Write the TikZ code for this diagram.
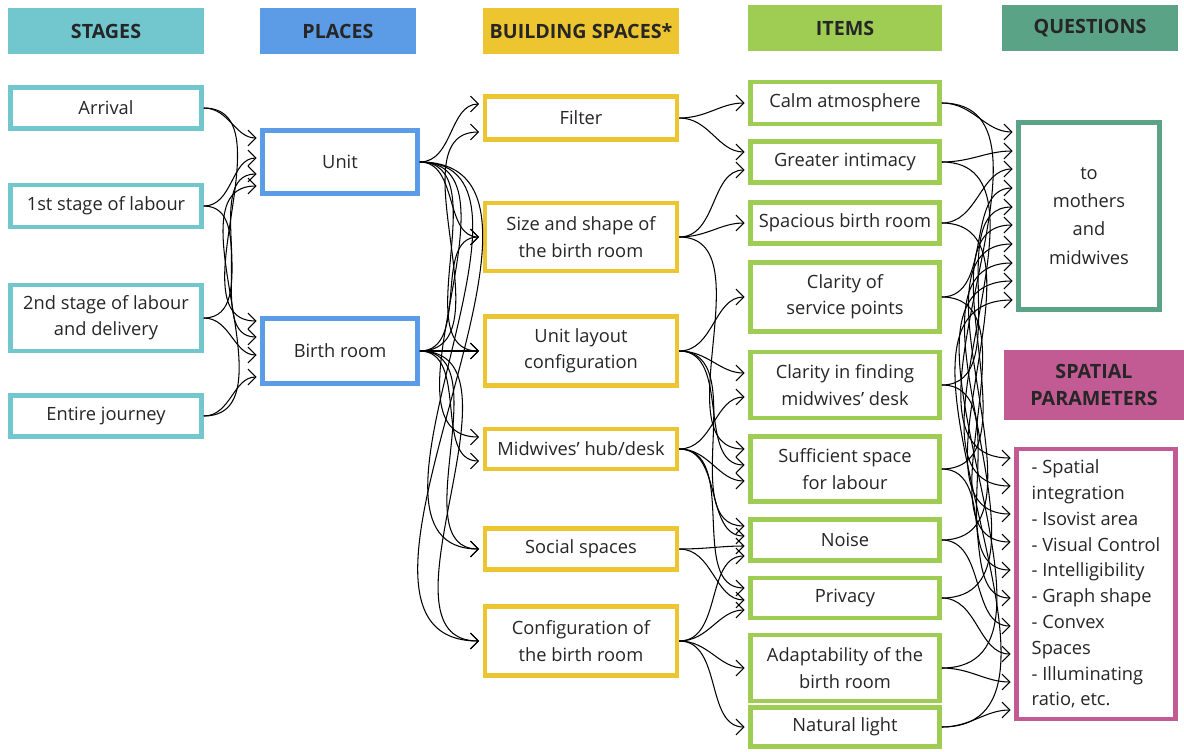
\documentclass[tikz,border=0pt]{standalone}
\usepackage{fontspec}
\setmainfont{Open Sans}
\usetikzlibrary{arrows.meta,calc}

\definecolor{stagecol}{HTML}{72C7CE}
\definecolor{placecol}{HTML}{5C9CE6}
\definecolor{spacecol}{HTML}{EDC531}
\definecolor{itemcol}{HTML}{9FCC52}
\definecolor{questcol}{HTML}{5AA386}
\definecolor{paramcol}{HTML}{C25B93}
\definecolor{inkcol}{HTML}{262626}

\begin{document}
\begin{tikzpicture}[x=0.02cm, y=-0.02cm,
  every node/.style={font=\fontsize{10.4}{15}\selectfont, text=inkcol, align=center, inner sep=1pt},
  head/.style={fill=#1, minimum height=0.92cm, font=\fontsize{11.2}{15}\selectfont\bfseries},
  box/.style={draw=#1, line width=2.6pt, fill=white},
  link/.style={->, >={Straight Barb[length=4.5pt,width=9pt]}, line width=0.6pt, shorten >=2pt}]
\useasboundingbox (0,0) rectangle (1184,751);

% headers
\node[head=stagecol, minimum width=3.92cm] (hStages) at (106,31) {STAGES};
\node[head=placecol, minimum width=3.12cm] (hPlaces) at (338,31) {PLACES};
\node[head=spacecol, minimum width=3.94cm] (hSpaces) at (581,31) {BUILDING SPACES*};
\node[head=itemcol, minimum width=3.88cm] (hItems) at (845,28) {ITEMS};
\node[head=questcol, minimum width=3.52cm] (hQuest) at (1090,28) {QUESTIONS};
\node[head=paramcol, minimum width=3.6cm, minimum height=1.4cm] (hParam) at (1094,385) {SPATIAL\\PARAMETERS};

% stages
\node[box=stagecol, minimum width=3.82cm, minimum height=0.82cm] (arr) at (106,108) {Arrival};
\node[box=stagecol, minimum width=3.82cm, minimum height=0.84cm] (first) at (106,206) {1st stage of labour};
\node[box=stagecol, minimum width=3.82cm, minimum height=1.32cm] (second) at (106,318) {2nd stage of labour\\and delivery};
\node[box=stagecol, minimum width=3.82cm, minimum height=0.82cm] (entire) at (106,416) {Entire journey};

% places
\node[box=placecol, minimum width=3.1cm, minimum height=1.26cm] (unit) at (340,162) {Unit};
\node[box=placecol, minimum width=3.1cm, minimum height=1.3cm] (birth) at (340,351) {Birth room};

% building spaces
\node[box=spacecol, minimum width=3.84cm, minimum height=0.86cm] (filter) at (581,118) {Filter};
\node[box=spacecol, minimum width=3.84cm, minimum height=1.36cm] (size) at (581,237) {Size and shape of\\the birth room};
\node[box=spacecol, minimum width=3.84cm, minimum height=1.38cm] (layout) at (581,351) {Unit layout\\configuration};
\node[box=spacecol, minimum width=3.84cm, minimum height=0.8cm] (hub) at (581,449) {Midwives' hub/desk};
\node[box=spacecol, minimum width=3.84cm, minimum height=0.82cm] (social) at (581,549) {Social spaces};
\node[box=spacecol, minimum width=3.84cm, minimum height=1.38cm] (config) at (581,641) {Configuration of\\the birth room};

% items
\node[box=itemcol, minimum width=3.78cm, minimum height=0.84cm] (calm) at (845,103) {Calm atmosphere};
\node[box=itemcol, minimum width=3.78cm, minimum height=0.82cm] (intimacy) at (845,162) {Greater intimacy};
\node[box=itemcol, minimum width=3.78cm, minimum height=0.82cm] (spacious) at (845,223) {Spacious birth room};
\node[box=itemcol, minimum width=3.78cm, minimum height=1.38cm] (service) at (845,297) {Clarity of\\service points};
\node[box=itemcol, minimum width=3.78cm, minimum height=1.32cm] (desk) at (845,385) {Clarity in finding\\midwives’ desk};
\node[box=itemcol, minimum width=3.78cm, minimum height=1.3cm] (sufficient) at (845,469) {Sufficient space\\for labour};
\node[box=itemcol, minimum width=3.78cm, minimum height=0.82cm] (noise) at (845,540) {Noise};
\node[box=itemcol, minimum width=3.78cm, minimum height=0.8cm] (privacy) at (845,598) {Privacy};
\node[box=itemcol, minimum width=3.78cm, minimum height=1.32cm] (adapt) at (845,668) {Adaptability of the\\birth room};
\node[box=itemcol, minimum width=3.78cm, minimum height=0.78cm] (light) at (845,727) {Natural light};

% targets
\node[box=questcol, minimum width=2.82cm, minimum height=3.74cm, font=\fontsize{10.4}{16}\selectfont] (quest) at (1089,216) {to\\mothers\\and\\midwives};
\node[box=paramcol, minimum width=3.18cm, minimum height=5.4cm, align=left, font=\fontsize{10.4}{14.7}\selectfont] (param) at (1096,584) {- Spatial\\integration\\- Isovist area\\- Visual Control\\- Intelligibility\\- Graph shape\\- Convex\\Spaces\\- Illuminating\\ratio, etc.};

% stages -> places
\foreach \s/\t/\dy in {arr/unit/-24, first/unit/-4, second/unit/12, entire/unit/24,
  arr/birth/-30, first/birth/-14, second/birth/4, entire/birth/26}
  \draw[link] (\s.east) to[out=0,in=180] ($(\t.west)+(0,\dy)$);

% places -> building spaces
\foreach \s/\t/\dy in {unit/filter/-14, birth/filter/14, unit/size/0, birth/size/0,
  unit/layout/0, birth/layout/0, unit/hub/-12, birth/hub/12,
  unit/social/0, birth/social/0, unit/config/0, birth/config/0}
  \draw[link] (\s.east) to[out=0,in=180] ($(\t.west)+(0,\dy)$);

% building spaces -> items
\foreach \s/\t/\dy in {filter/calm/0, filter/intimacy/-10, size/intimacy/8, size/spacious/0,
  size/sufficient/-20, layout/service/0, layout/desk/-12, layout/sufficient/-4, layout/noise/-14,
  hub/desk/12, hub/sufficient/12, hub/noise/-4, hub/privacy/-10, social/noise/6, social/privacy/2,
  config/noise/16, config/privacy/12, config/adapt/0, config/light/0}
  \draw[link] (\s.east) to[out=0,in=180] ($(\t.west)+(0,\dy)$);

% items -> questions and parameters
\foreach \s/\a/\b in {calm/-84/-126, intimacy/-65/-98, spacious/-47/-70, service/-28/-42,
  desk/-9/-14, sufficient/9/14, noise/28/42, privacy/47/70, adapt/65/98, light/84/126} {
  \draw[link] (\s.east) to[out=0,in=180] ($(quest.west)+(0,\a)$);
  \draw[link] (\s.east) to[out=0,in=180] ($(param.west)+(0,\b)$);
}
\end{tikzpicture}
\end{document}
